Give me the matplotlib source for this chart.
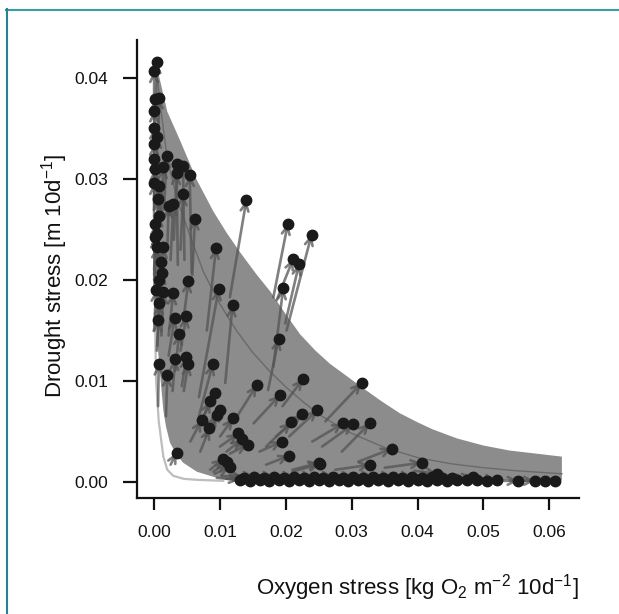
import matplotlib
matplotlib.use("Agg")
import matplotlib.pyplot as plt
from matplotlib.lines import Line2D

plt.rcParams['font.family'] = ['Liberation Sans', 'DejaVu Sans']
plt.rcParams['mathtext.fontset'] = 'custom'
plt.rcParams['mathtext.rm'] = 'Liberation Sans'
plt.rcParams['mathtext.it'] = 'Liberation Sans'

# shaded envelope
upper_x = [0.0004, 0.002, 0.0039, 0.0065, 0.009, 0.011, 0.013, 0.0155, 0.0176, 0.020,
           0.0222, 0.0245, 0.0267, 0.029, 0.0317, 0.0345, 0.0373, 0.040, 0.0423, 0.046,
           0.050, 0.054, 0.058, 0.0619]
upper_y = [0.0412, 0.0367, 0.0339, 0.0299, 0.0268, 0.0247, 0.0228, 0.0206, 0.0189, 0.0166,
           0.0146, 0.0130, 0.0117, 0.0106, 0.0093, 0.0080, 0.0068, 0.0059, 0.0052, 0.0043,
           0.0036, 0.0031, 0.0028, 0.0025]
lower_x = [0.0619, 0.030, 0.015, 0.011, 0.009, 0.0065, 0.0044, 0.0033, 0.0024, 0.0018,
           0.0014, 0.001, 0.0006, 0.0004, 0.0003, 0.0003, 0.0003]
lower_y = [0.0002, 0.0001, 0.0001, 0.0002, 0.0005, 0.0010, 0.0019, 0.0028, 0.0039, 0.0055,
           0.0071, 0.0100, 0.0130, 0.0150, 0.0200, 0.0300, 0.0400]

# fitted middle curve
mid_x = [0.0004, 0.001, 0.002, 0.0035, 0.0055, 0.0075, 0.010, 0.0125, 0.015, 0.0175, 0.020,
         0.0225, 0.025, 0.0275, 0.030, 0.0325, 0.035, 0.0375, 0.040, 0.045, 0.050, 0.055, 0.0619]
mid_y = [0.0405, 0.0370, 0.0320, 0.0280, 0.0243, 0.0208, 0.0176, 0.0150, 0.0128, 0.0110, 0.0094,
         0.0080, 0.0067, 0.0057, 0.0048, 0.0041, 0.0034, 0.0029, 0.0024, 0.0018, 0.0014, 0.0011, 0.0008]

# light curve at lower left
low_x = [0.0001, 0.00015, 0.0003, 0.0007, 0.0014, 0.002, 0.0029, 0.0045, 0.0065, 0.0105]
low_y = [0.0220, 0.0157, 0.0100, 0.0060, 0.0025, 0.0012, 0.0006, 0.0003, 0.0002, 0.0001]

# arrows: start -> end (end carries the dot)
start_x = [0.0002, 0.0, 0.0007, 0.0, 0.0, 0.0, 0.0, 0.0015, 0.001, 0.0036, 0.0046, 0.0057,
           0.003, 0.0, 0.0006, 0.004, 0.0025, 0.002, 0.0058, 0.0005, 0.0, 0.0, 0.0115, 0.0181,
           0.0201, 0.0, 0.001, 0.008, 0.0186, 0.0199, 0.0008, 0.0005, 0.0044, 0.0011, 0.0022,
           0.0068, 0.0181, 0.0005, 0.0108, 0.0022, 0.004, 0.0032, 0.0173, 0.0006, 0.0028, 0.0042,
           0.0045, 0.0018, 0.0068, 0.0126, 0.0195, 0.0151, 0.0075, 0.0072, 0.0085, 0.0078, 0.010,
           0.0055, 0.007, 0.0205, 0.0185, 0.017, 0.010, 0.011, 0.0115, 0.016, 0.0025, 0.0085,
           0.009, 0.0092, 0.017, 0.021, 0.026, 0.024, 0.0255, 0.0285, 0.031, 0.021, 0.0275,
           0.035, 0.0395, 0.045, 0.0515, 0.054, 0.0555, 0.057,
           0.0, 0.0003, 0.0, 0.0004, 0.0, 0.0008, 0.0, 0.0004,
           0.0095, 0.0102, 0.0110, 0.0118, 0.0125, 0.0132, 0.0140, 0.0148, 0.0155, 0.0162,
           0.0170, 0.0178, 0.0185, 0.0192, 0.0200, 0.0208, 0.0215, 0.0222, 0.0230, 0.0238,
           0.0245, 0.0252, 0.0260, 0.0268, 0.0275, 0.0282, 0.0290, 0.0298, 0.0305, 0.0312,
           0.0320, 0.0328, 0.0335, 0.0342, 0.0350, 0.0358, 0.0365, 0.0372, 0.0380, 0.0388,
           0.0395, 0.0402, 0.0410, 0.0418, 0.0425, 0.0440, 0.0455, 0.0470, 0.0485]
start_y = [0.037, 0.036, 0.0345, 0.033, 0.031, 0.029, 0.028, 0.027, 0.026, 0.0215, 0.022, 0.0207,
           0.024, 0.025, 0.025, 0.023, 0.022, 0.023, 0.0205, 0.022, 0.021, 0.020, 0.0183, 0.0183,
           0.015, 0.019, 0.019, 0.015, 0.018, 0.0157, 0.0165, 0.016, 0.0158, 0.0145, 0.0145,
           0.0084, 0.0114, 0.0135, 0.0098, 0.0125, 0.013, 0.011, 0.0091, 0.0075, 0.009, 0.0095,
           0.009, 0.0065, 0.0065, 0.0065, 0.0075, 0.0058, 0.0065, 0.006, 0.005, 0.0045, 0.0045,
           0.004, 0.003, 0.0045, 0.0045, 0.0035, 0.0035, 0.003, 0.0028, 0.003, 0.0017, 0.0012,
           0.001, 0.0008, 0.0017, 0.0012, 0.006, 0.004, 0.0035, 0.003, 0.002, 0.001, 0.0012,
           0.0014, 0.0011, 0.0003, 0.0001, 0.0001, 0.0001, 0.0001,
           0.0340, 0.0300, 0.0270, 0.0240, 0.0205, 0.0180, 0.0150, 0.0130,
           0.0004, 0.0006, 0.0003, 0.0007, 0.0004, 0.0006, 0.0003, 0.0007, 0.0004, 0.0006,
           0.0003, 0.0007, 0.0004, 0.0006, 0.0003, 0.0007, 0.0004, 0.0006, 0.0003, 0.0007,
           0.0004, 0.0006, 0.0003, 0.0007, 0.0004, 0.0006, 0.0003, 0.0007, 0.0004, 0.0006,
           0.0003, 0.0007, 0.0004, 0.0006, 0.0003, 0.0007, 0.0004, 0.0006, 0.0003, 0.0007,
           0.0004, 0.0006, 0.0003, 0.0007, 0.0004, 0.0005, 0.0004, 0.0004, 0.0004]
end_x = [0.0004, 0.0, 0.0007, 0.0, 0.0, 0.0, 0.0, 0.0019, 0.0014, 0.0034, 0.0044, 0.0054,
         0.0034, 0.0, 0.0008, 0.0044, 0.0029, 0.0022, 0.0062, 0.0007, 0.0002, 0.0004, 0.0140, 0.0203,
         0.0239, 0.0004, 0.0014, 0.0094, 0.0211, 0.0220, 0.0012, 0.0008, 0.0052, 0.0014, 0.0029,
         0.0098, 0.0196, 0.0008, 0.0119, 0.0031, 0.0049, 0.0038, 0.0189, 0.0007, 0.0032, 0.0049,
         0.0052, 0.0020, 0.0089, 0.0156, 0.0226, 0.0191, 0.0093, 0.0085, 0.0100, 0.0095, 0.0120,
         0.0072, 0.0084, 0.0248, 0.0224, 0.0208, 0.0128, 0.0133, 0.0142, 0.0194, 0.0034, 0.0105,
         0.0110, 0.0115, 0.0205, 0.0251, 0.0315, 0.0287, 0.0302, 0.0327, 0.0361, 0.0252, 0.0328,
         0.0406, 0.0430, 0.0484, 0.0553, 0.0578, 0.0593, 0.0608,
         0.0002, 0.0005, 0.0001, 0.0006, 0.0002, 0.0010, 0.0003, 0.0006,
         0.0130, 0.0137, 0.0145, 0.0152, 0.0160, 0.0167, 0.0175, 0.0182, 0.0190, 0.0197,
         0.0205, 0.0212, 0.0220, 0.0227, 0.0235, 0.0242, 0.0250, 0.0257, 0.0265, 0.0272,
         0.0280, 0.0287, 0.0295, 0.0302, 0.0310, 0.0317, 0.0325, 0.0332, 0.0340, 0.0347,
         0.0355, 0.0362, 0.0370, 0.0377, 0.0385, 0.0392, 0.0400, 0.0407, 0.0415, 0.0422,
         0.0430, 0.0437, 0.0445, 0.0452, 0.0460, 0.0475, 0.0490, 0.0505, 0.0520]
end_y = [0.0416, 0.0407, 0.0381, 0.0368, 0.0351, 0.0335, 0.0320, 0.0323, 0.0312, 0.0315, 0.0313, 0.0304,
         0.0306, 0.0296, 0.0293, 0.0285, 0.0275, 0.0273, 0.0261, 0.0264, 0.0256, 0.0246, 0.0279, 0.0256,
         0.0245, 0.0233, 0.0233, 0.0232, 0.0221, 0.0216, 0.0207, 0.0200, 0.0199, 0.0188, 0.0187,
         0.0191, 0.0192, 0.0177, 0.0175, 0.0162, 0.0164, 0.0147, 0.0142, 0.0117, 0.0122, 0.0124,
         0.0117, 0.0106, 0.0117, 0.0096, 0.0102, 0.0086, 0.0088, 0.0080, 0.0071, 0.0066, 0.0063,
         0.0061, 0.0053, 0.0071, 0.0067, 0.0059, 0.0048, 0.0042, 0.0037, 0.0040, 0.0029, 0.0023,
         0.0020, 0.0015, 0.0026, 0.0019, 0.0098, 0.0058, 0.0057, 0.0058, 0.0033, 0.0018, 0.0017,
         0.0019, 0.0008, 0.0005, 0.0001, 0.0001, 0.0001, 0.0001,
         0.0380, 0.0342, 0.0310, 0.0280, 0.0243, 0.0218, 0.0190, 0.0160,
         0.0002, 0.0004, 0.0001, 0.0005, 0.0002, 0.0004, 0.0001, 0.0005, 0.0002, 0.0004,
         0.0001, 0.0005, 0.0002, 0.0004, 0.0001, 0.0005, 0.0002, 0.0004, 0.0001, 0.0005,
         0.0002, 0.0004, 0.0001, 0.0005, 0.0002, 0.0004, 0.0001, 0.0005, 0.0002, 0.0004,
         0.0001, 0.0005, 0.0002, 0.0004, 0.0001, 0.0005, 0.0002, 0.0004, 0.0001, 0.0005,
         0.0002, 0.0004, 0.0001, 0.0004, 0.0002, 0.0002, 0.0002, 0.0001, 0.0002]

x_ticks = [0.00, 0.01, 0.02, 0.03, 0.04, 0.05, 0.06]
y_ticks = [0.00, 0.01, 0.02, 0.03, 0.04]

fig = plt.figure(figsize=(6.19, 6.14), dpi=100)
ax = fig.add_axes([137 / 619, 1 - 498 / 614, (579 - 137) / 619, (498 - 40) / 614])

# envelope
ax.fill(upper_x + lower_x, upper_y + lower_y, color='#8c8c8c', lw=0, zorder=1)
ax.plot(mid_x, mid_y, color='#6a6a6a', lw=1.0, zorder=2)
ax.plot(low_x, low_y, color='#bdbdbd', lw=1.6, zorder=2)

for x0, y0, x1, y1 in zip(start_x, start_y, end_x, end_y):
    ax.annotate('', xy=(x1, y1), xytext=(x0, y0),
                arrowprops=dict(arrowstyle='->', color='#555555', lw=1.9, alpha=0.75,
                                mutation_scale=14, shrinkA=0, shrinkB=0),
                zorder=3)
ax.plot(end_x, end_y, 'o', color='#1a1a1a', ms=7.5, mec='#1a1a1a', zorder=4)

ax.set_xlim(-0.0026, 0.0645)
ax.set_ylim(-0.0016, 0.0438)
ax.set_xticks(x_ticks)
ax.set_xticklabels(['%.2f' % v for v in x_ticks])
ax.set_yticks(y_ticks)
ax.set_yticklabels(['%.2f' % v for v in y_ticks])
for s in ['top', 'right']:
    ax.spines[s].set_visible(False)
for s in ['left', 'bottom']:
    ax.spines[s].set_linewidth(1.6)
    ax.spines[s].set_color('#111111')
ax.tick_params(axis='x', direction='out', length=8.5, width=1.6, pad=11, labelsize=12.5, colors='#111111')
ax.tick_params(axis='y', direction='out', length=10, width=1.6, pad=11, labelsize=12.5, colors='#111111')

fig.text(417 / 619, 1 - 588 / 614, r'Oxygen stress [kg O$_2$ m$^{-2}$ 10d$^{-1}$]',
         ha='center', va='center', fontsize=16, color='#111111')
fig.text(55 / 619, 1 - 276 / 614, r'Drought stress [m 10d$^{-1}$]',
         ha='center', va='center', rotation=90, fontsize=16, color='#111111')

# teal frame on top and left edge
fig.add_artist(Line2D([6 / 619, 1], [1 - 9.5 / 614, 1 - 9.5 / 614], transform=fig.transFigure,
                      color='#3d9aa8', lw=1.5))
fig.add_artist(Line2D([7 / 619, 7 / 619], [0, 1 - 9 / 614], transform=fig.transFigure,
                      color='#2a8196', lw=1.5))

fig.savefig('out.png', dpi=100)
